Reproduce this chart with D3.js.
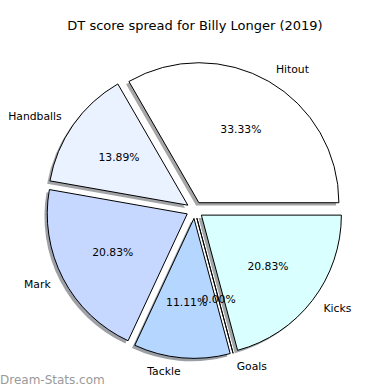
<!DOCTYPE html>
<html>
<head>
<meta charset="utf-8">
<script src="https://cdn.jsdelivr.net/npm/d3@7"></script>
<style>
  html, body { margin: 0; padding: 0; background: #fff; }
  svg { display: block; font-family: "DejaVu Sans", sans-serif; }
</style>
</head>
<body>
<svg id="chart" width="390" height="390"></svg>
<script>
const title = "DT score spread for Billy Longer (2019)";
const categories = ["Hitout", "Handballs", "Mark", "Tackle", "Goals", "Kicks"];
const values = [24, 10, 15, 8, 0, 15];
const colors = ["#ffffff", "#eaf1ff", "#c6d8ff", "#b4d6ff", "#ffffff", "#d9ffff"];
const watermark = "Dream-Stats.com";

const svg = d3.select("#chart");
const W = 390, H = 390;
const cx = 194.7, cy = 210, R = 140;
const explode = 0.06 * R;
const shadowOff = 0.02 * R;

const total = d3.sum(values);
const pie = d3.pie().value(d => d).sort(null)
  .startAngle(Math.PI / 2).endAngle(Math.PI / 2 - 2 * Math.PI);
const arcs = pie(values);
const arc = d3.arc().innerRadius(0).outerRadius(R);

function midVec(a) {
  const m = (a.startAngle + a.endAngle) / 2;
  return [Math.sin(m), -Math.cos(m)];
}

const g = svg.append("g").attr("transform", `translate(${cx},${cy})`);

// shadows
g.selectAll("path.shadow").data(arcs).enter().append("path")
  .attr("class", "shadow")
  .attr("d", arc)
  .attr("transform", d => {
    const [ux, uy] = midVec(d);
    return `translate(${ux * explode - shadowOff},${uy * explode + shadowOff})`;
  })
  .attr("fill", (d, i) => {
    const c = d3.rgb(colors[i]);
    return d3.rgb(c.r * 0.3, c.g * 0.3, c.b * 0.3).toString();
  })
  .attr("fill-opacity", 0.5)
  .attr("stroke", "none");

// wedges
g.selectAll("path.wedge").data(arcs).enter().append("path")
  .attr("class", "wedge")
  .attr("d", arc)
  .attr("transform", d => {
    const [ux, uy] = midVec(d);
    return `translate(${ux * explode},${uy * explode})`;
  })
  .attr("fill", (d, i) => colors[i])
  .attr("stroke", "#000")
  .attr("stroke-width", 1)
  .attr("stroke-linejoin", "miter");

// labels
g.selectAll("text.lbl").data(arcs).enter().append("text")
  .attr("class", "lbl")
  .attr("x", d => { const [ux] = midVec(d); return ux * explode + ux * 1.1 * R; })
  .attr("y", d => { const [, uy] = midVec(d); return uy * explode + uy * 1.1 * R; })
  .attr("text-anchor", d => midVec(d)[0] > 0 ? "start" : "end")
  .attr("dominant-baseline", "central")
  .attr("font-size", 10.8)
  .attr("fill", "#000")
  .text((d, i) => categories[i]);

// percentages
g.selectAll("text.pct").data(arcs).enter().append("text")
  .attr("class", "pct")
  .attr("x", d => { const [ux] = midVec(d); return ux * explode + ux * 0.6 * R; })
  .attr("y", d => { const [, uy] = midVec(d); return uy * explode + uy * 0.6 * R; })
  .attr("text-anchor", "middle")
  .attr("dominant-baseline", "central")
  .attr("font-size", 10.8)
  .attr("fill", "#000")
  .text(d => (100 * d.value / total).toFixed(2) + "%");

// title
svg.append("text")
  .attr("x", W / 2).attr("y", 30)
  .attr("text-anchor", "middle")
  .attr("font-size", 13)
  .attr("fill", "#000")
  .text(title);

// watermark
svg.append("text")
  .attr("x", 0).attr("y", 384)
  .attr("font-size", 12)
  .attr("fill", "#9a9a9a")
  .text(watermark);
</script>
</body>
</html>
